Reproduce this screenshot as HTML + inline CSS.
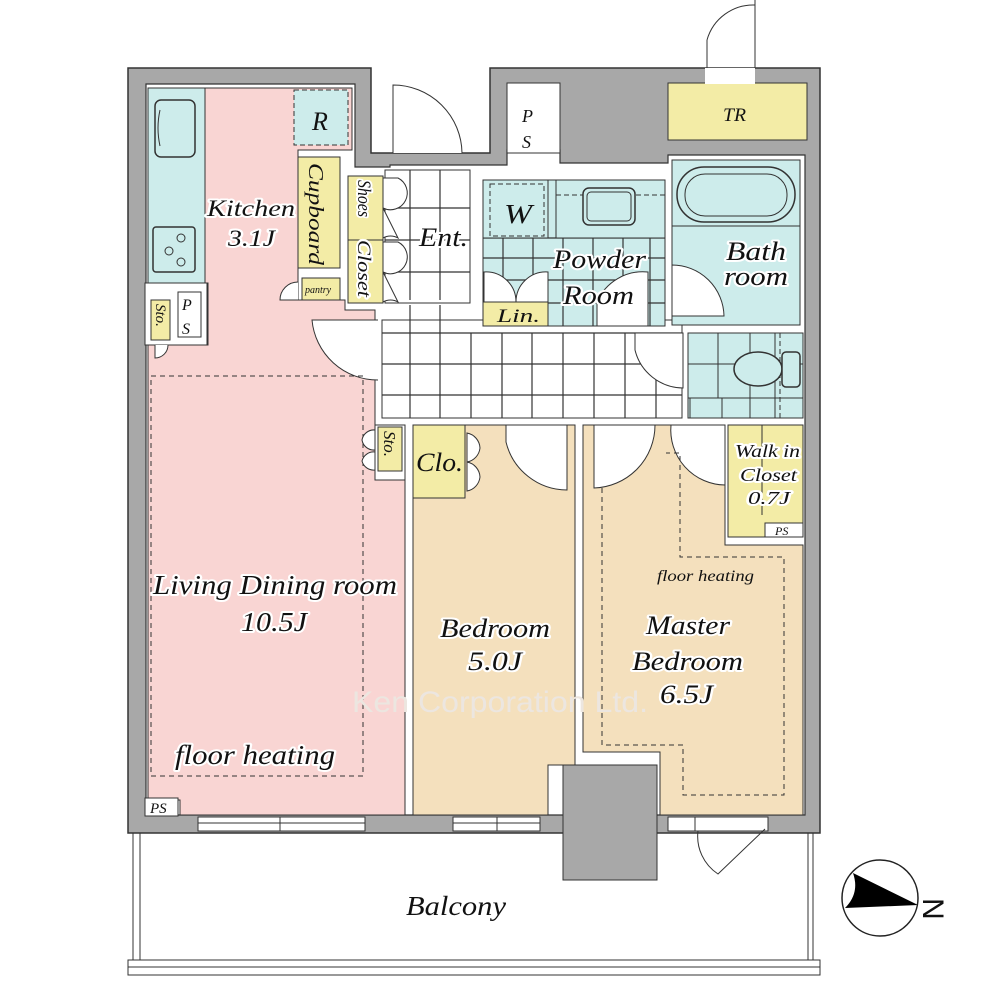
<!DOCTYPE html>
<html><head><meta charset="utf-8"><style>
html,body{margin:0;padding:0;background:#fff;}
svg{display:block}
text{font-family:"Liberation Serif",serif;font-style:italic;fill:#111;}
.h{paint-order:stroke;stroke:#fff;stroke-width:4px;stroke-linejoin:round;}
</style></head><body>
<svg width="1000" height="1000" viewBox="0 0 1000 1000" xmlns="http://www.w3.org/2000/svg">
<path d="M128 68 H371 V153 H462 V153 H490 V68 H820 V833 H128 Z" fill="#a8a8a8" stroke="#333" stroke-width="1.5"/>
<path d="M146 84 H355 V167 H390 V165 H462 V165 H507 V150 H560 V163 H668 V155 H805 V815 H146 Z" fill="#fff" stroke="#333" stroke-width="1.2"/>
<rect x="507" y="83" width="53" height="70" fill="#fff" stroke="#333"/>
<text x="522" y="122" font-size="18">P</text><text x="522" y="148" font-size="18">S</text>
<rect x="668" y="83" width="139" height="57" fill="#f3eca6" stroke="#333"/>
<text x="723" y="121" font-size="19" textLength="23" lengthAdjust="spacingAndGlyphs">TR</text>
<rect x="705" y="68" width="50" height="16" fill="#fff"/>
<path d="M755 68 V0 M707 68 V40" stroke="#333" fill="none"/>
<path d="M707 40 A48 48 0 0 1 755 5" fill="none" stroke="#333"/>
<path d="M148 88 H352 V150 H298 V300 H345 V310 H375 V480 H405 V815 H180 V800 H148 V345 H208 V283 H148 Z" fill="#f9d5d3" stroke="#333" stroke-width="1"/>
<rect x="148" y="88" width="57" height="195" fill="#cdeceb" stroke="#333"/>
<rect x="155" y="100" width="40" height="57" rx="6" fill="none" stroke="#333" stroke-width="1.5"/>
<path d="M160 110 Q156 128 160 146" fill="none" stroke="#333"/>
<rect x="153" y="227" width="42" height="45" rx="3" fill="none" stroke="#333" stroke-width="1.5"/>
<circle cx="181" cy="238" r="4" fill="none" stroke="#333"/><circle cx="169" cy="251" r="4" fill="none" stroke="#333"/><circle cx="181" cy="262" r="4" fill="none" stroke="#333"/>
<rect x="294" y="90" width="54" height="55" fill="#cdeceb" stroke="#333" stroke-dasharray="5,3"/>
<text x="312" y="130" font-size="26">R</text>
<rect x="298" y="157" width="42" height="111" fill="#f3eca6" stroke="#333"/>
<text transform="translate(309,163) rotate(90)" font-size="21" textLength="102" lengthAdjust="spacingAndGlyphs">Cupboard</text>
<rect x="302" y="278" width="38" height="22" fill="#f3eca6" stroke="#333"/>
<text x="305" y="293" font-size="10">pantry</text>
<path d="M298 300 H280 A18 18 0 0 1 298 282" fill="#fff" stroke="#333"/>
<rect x="348" y="176" width="35" height="127" fill="#f3eca6" stroke="#333"/>
<line x1="348" y1="240" x2="383" y2="240" stroke="#333"/>
<text class="h" transform="translate(358,180) rotate(90)" font-size="19" textLength="37" lengthAdjust="spacingAndGlyphs">Shoes</text>
<text class="h" transform="translate(358,240) rotate(90)" font-size="19" textLength="57" lengthAdjust="spacingAndGlyphs">Closet</text>
<rect x="385" y="170" width="85" height="133" fill="#fff" stroke="#333"/>
<g stroke="#333" stroke-width="1.2">
<line x1="410" y1="170" x2="410" y2="300"/><line x1="440" y1="170" x2="440" y2="300"/>
<line x1="385" y1="208" x2="470" y2="208"/><line x1="385" y1="240" x2="470" y2="240"/><line x1="385" y1="272" x2="470" y2="272"/>
</g>
<g fill="#fff" stroke="#333">
<path d="M383 178 V208 A15 15 0 0 0 398 178 Z"/><path d="M383 208 V238 A15 15 0 0 1 398 238 Z"/>
<path d="M383 242 V272 A15 15 0 0 0 398 242 Z"/><path d="M383 272 V302 A15 15 0 0 1 398 302 Z"/>
</g>
<text class="h" x="419" y="246" font-size="26" textLength="49" lengthAdjust="spacingAndGlyphs">Ent.</text>
<path d="M393 153 V85 A69 69 0 0 1 462 153" fill="#fff" stroke="#333"/>
<rect x="145" y="283" width="62" height="62" fill="#fff" stroke="#333"/>
<rect x="151" y="300" width="19" height="40" fill="#f3eca6" stroke="#333"/>
<text transform="translate(156,304) rotate(90)" font-size="15">Sto.</text>
<rect x="178" y="292" width="23" height="45" fill="#fff" stroke="#333"/>
<text x="182" y="310" font-size="16">P</text><text x="182" y="334" font-size="16">S</text>
<path d="M155 345 V358 A13 13 0 0 0 168 345" fill="#fff" stroke="#333"/>
<path d="M378 320 H312 A66 66 0 0 0 378 380" fill="#fff" stroke="#333"/>
<rect x="151" y="376" width="212" height="400" fill="none" stroke="#333" stroke-dasharray="5,4"/>
<rect x="382" y="320" width="300" height="98" fill="#fff" stroke="#333"/>
<g stroke="#333" stroke-width="1.2">
<line x1="382" y1="333" x2="682" y2="333"/><line x1="382" y1="364" x2="682" y2="364"/><line x1="382" y1="395" x2="682" y2="395"/>
<line x1="410" y1="305" x2="410" y2="418"/><line x1="440" y1="305" x2="440" y2="418"/><line x1="471" y1="333" x2="471" y2="418"/>
<line x1="502" y1="333" x2="502" y2="418"/><line x1="532" y1="333" x2="532" y2="418"/><line x1="563" y1="333" x2="563" y2="418"/>
<line x1="594" y1="333" x2="594" y2="418"/><line x1="625" y1="333" x2="625" y2="418"/><line x1="656" y1="333" x2="656" y2="418"/>
</g>
<path d="M635 333 V350 A50 50 0 0 0 683 388 V333 Z" fill="#fff" stroke="#333"/>
<rect x="483" y="180" width="182" height="146" fill="#cdeceb" stroke="#333"/>
<g stroke="#333" stroke-width="1.2">
<line x1="483" y1="238" x2="665" y2="238"/><line x1="483" y1="258" x2="665" y2="258"/><line x1="483" y1="280" x2="665" y2="280"/><line x1="483" y1="303" x2="665" y2="303"/>
<line x1="503" y1="238" x2="503" y2="326"/><line x1="533" y1="238" x2="533" y2="326"/><line x1="563" y1="238" x2="563" y2="326"/><line x1="593" y1="238" x2="593" y2="326"/><line x1="623" y1="238" x2="623" y2="326"/><line x1="650" y1="238" x2="650" y2="326"/>
</g>
<rect x="483" y="180" width="65" height="58" fill="#cdeceb" stroke="#333"/>
<rect x="490" y="184" width="54" height="52" fill="none" stroke="#333" stroke-dasharray="5,3"/>
<text x="504" y="223" font-size="27" textLength="28" lengthAdjust="spacingAndGlyphs">W</text>
<rect x="556" y="180" width="109" height="58" fill="#cdeceb" stroke="#333"/>
<line x1="556" y1="195" x2="665" y2="195" stroke="#333" stroke-dasharray="5,3"/>
<rect x="583" y="188" width="52" height="37" rx="6" fill="#cdeceb" stroke="#333" stroke-width="1.5"/>
<rect x="587" y="192" width="44" height="29" rx="4" fill="none" stroke="#333"/>
<path d="M484 272 A30 30 0 0 1 516 302 A30 30 0 0 1 548 272 V302 H484 Z" fill="#fff" stroke="#333"/>
<rect x="483" y="302" width="65" height="24" fill="#f3eca6" stroke="#333"/>
<text x="497" y="322" font-size="19" textLength="43" lengthAdjust="spacingAndGlyphs">Lin.</text>
<path d="M597 326 V302 A50 50 0 0 1 648 272 V326 Z" fill="#fff" stroke="#333"/>
<text class="h" x="553" y="268" font-size="26" textLength="93" lengthAdjust="spacingAndGlyphs">Powder</text>
<text class="h" x="563" y="304" font-size="26" textLength="71" lengthAdjust="spacingAndGlyphs">Room</text>
<rect x="672" y="160" width="128" height="165" fill="#cdeceb" stroke="#333"/>
<line x1="672" y1="226" x2="800" y2="226" stroke="#333"/>
<rect x="677" y="167" width="118" height="55" rx="27" fill="none" stroke="#333" stroke-width="1.5"/>
<rect x="685" y="174" width="102" height="42" rx="20" fill="none" stroke="#333"/>
<path d="M672 265 A52 52 0 0 1 724 316 H672 Z" fill="#fff" stroke="#333"/>
<text class="h" x="726" y="260" font-size="26" textLength="60" lengthAdjust="spacingAndGlyphs">Bath</text>
<text class="h" x="724" y="285" font-size="26" textLength="64" lengthAdjust="spacingAndGlyphs">room</text>
<rect x="688" y="333" width="115" height="85" fill="#cdeceb" stroke="#333"/>
<g stroke="#333"><line x1="688" y1="364" x2="803" y2="364"/><line x1="688" y1="398" x2="803" y2="398"/><line x1="718" y1="333" x2="718" y2="418"/><line x1="750" y1="333" x2="750" y2="418"/><line x1="775" y1="333" x2="775" y2="418"/></g>
<line x1="780" y1="333" x2="780" y2="418" stroke="#333" stroke-dasharray="5,3"/>
<ellipse cx="758" cy="369" rx="24" ry="17" fill="#cdeceb" stroke="#333" stroke-width="1.5"/>
<rect x="782" y="352" width="18" height="35" rx="4" fill="#cdeceb" stroke="#333" stroke-width="1.5"/>
<rect x="690" y="398" width="32" height="20" fill="#cdeceb" stroke="#333"/>
<rect x="375" y="425" width="30" height="55" fill="#fff" stroke="#333"/>
<rect x="378" y="427" width="24" height="44" fill="#f3eca6" stroke="#333"/>
<text transform="translate(384,431) rotate(90)" font-size="17">Sto.</text>
<path d="M375 430 A12 12 0 0 0 362 440 A12 12 0 0 0 375 450 Z M375 452 A12 12 0 0 0 362 461 A12 12 0 0 0 375 470 Z" fill="#fff" stroke="#333"/>
<path d="M413 498 H465 V425 H575 V765 H548 V815 H413 Z" fill="#f4e0bd" stroke="#333"/>
<rect x="413" y="425" width="52" height="73" fill="#f3eca6" stroke="#333"/>
<text x="416" y="471" font-size="26" textLength="47" lengthAdjust="spacingAndGlyphs">Clo.</text>
<path d="M467 433 A16 16 0 0 1 480 448 A16 16 0 0 1 467 462 Z M467 462 A16 16 0 0 1 480 477 A16 16 0 0 1 467 491 Z" fill="#fff" stroke="#333"/>
<path d="M506 425 V442 A63 63 0 0 0 567 490 V425 Z" fill="#fff" stroke="#333"/>
<text class="h" x="440" y="637" font-size="26" textLength="110" lengthAdjust="spacingAndGlyphs">Bedroom</text>
<text class="h" x="468" y="670" font-size="26" textLength="54" lengthAdjust="spacingAndGlyphs">5.0J</text>
<path d="M583 425 H725 V545 H803 V815 H660 V752 H583 Z" fill="#f4e0bd" stroke="#333"/>
<path d="M594 425 V488 A63 63 0 0 0 655 425 Z" fill="#fff" stroke="#333"/>
<path d="M671 425 A55 55 0 0 0 725 485 V425 Z" fill="#fff" stroke="#333"/>
<rect x="728" y="425" width="75" height="112" fill="#f3eca6" stroke="#333"/>
<line x1="762" y1="425" x2="762" y2="515" stroke="#333"/>
<rect x="765" y="523" width="38" height="14" fill="#fff" stroke="#333"/>
<text x="775" y="535" font-size="12">PS</text>
<text class="h" x="735" y="457" font-size="18" textLength="65" lengthAdjust="spacingAndGlyphs">Walk in</text>
<text class="h" x="740" y="481" font-size="18" textLength="57" lengthAdjust="spacingAndGlyphs">Closet</text>
<text class="h" x="748" y="504" font-size="18" textLength="42" lengthAdjust="spacingAndGlyphs">0.7J</text>
<path d="M602 488 V745 H683 V795 H784 V557 H680 V453 H666" fill="none" stroke="#333" stroke-dasharray="5,4"/>
<text x="657" y="581" font-size="16" textLength="97" lengthAdjust="spacingAndGlyphs">floor heating</text>
<text class="h" x="646" y="634" font-size="26" textLength="84" lengthAdjust="spacingAndGlyphs">Master</text>
<text class="h" x="632" y="670" font-size="26" textLength="111" lengthAdjust="spacingAndGlyphs">Bedroom</text>
<text class="h" x="660" y="703" font-size="26" textLength="53" lengthAdjust="spacingAndGlyphs">6.5J</text>
<rect x="563" y="765" width="94" height="115" fill="#a8a8a8" stroke="#333"/>
<text class="h" x="153" y="594" font-size="27" textLength="244" lengthAdjust="spacingAndGlyphs">Living Dining room</text>
<text class="h" x="241" y="631" font-size="27" textLength="66" lengthAdjust="spacingAndGlyphs">10.5J</text>
<text class="h" x="175" y="764" font-size="27" textLength="160" lengthAdjust="spacingAndGlyphs">floor heating</text>
<text class="h" x="207" y="216" font-size="23" textLength="88" lengthAdjust="spacingAndGlyphs">Kitchen</text>
<text class="h" x="228" y="246" font-size="23" textLength="47" lengthAdjust="spacingAndGlyphs">3.1J</text>
<rect x="145" y="798" width="33" height="18" fill="#fff" stroke="#333"/>
<text x="150" y="813" font-size="15">PS</text>
<g fill="#fff" stroke="#333">
<rect x="198" y="817" width="167" height="14"/><line x1="198" y1="823" x2="365" y2="823"/><line x1="280" y1="817" x2="280" y2="831"/>
<rect x="453" y="817" width="87" height="14"/><line x1="453" y1="823" x2="540" y2="823"/><line x1="497" y1="817" x2="497" y2="831"/>
<rect x="668" y="817" width="100" height="14"/><line x1="695" y1="817" x2="695" y2="831"/>
</g>
<path d="M698 831 A45 45 0 0 0 718 874 L765 829" fill="none" stroke="#333"/>
<path d="M133 833 V960 M140 833 V960 M813 833 V960 M808 833 V960" stroke="#333" fill="none"/>
<rect x="128" y="960" width="692" height="15" fill="#fff" stroke="#333"/>
<line x1="128" y1="967" x2="820" y2="967" stroke="#333"/>
<text x="406" y="915" font-size="27" textLength="100" lengthAdjust="spacingAndGlyphs">Balcony</text>
<text x="352" y="712" font-size="30" textLength="296" lengthAdjust="spacingAndGlyphs" style="font-style:normal;fill:#ece6e0;font-family:'Liberation Sans',sans-serif">Ken Corporation Ltd.</text>
<circle cx="880" cy="898" r="38" fill="#fff" stroke="#222" stroke-width="1.5"/>
<path d="M853 873 L918 905 L845 908 Q860 893 853 873 Z" fill="#000"/>
<text x="920" y="925" font-size="30" style="font-style:normal;font-family:'Liberation Sans',sans-serif" transform="rotate(90 935 913)">N</text>
</svg>
</body></html>
